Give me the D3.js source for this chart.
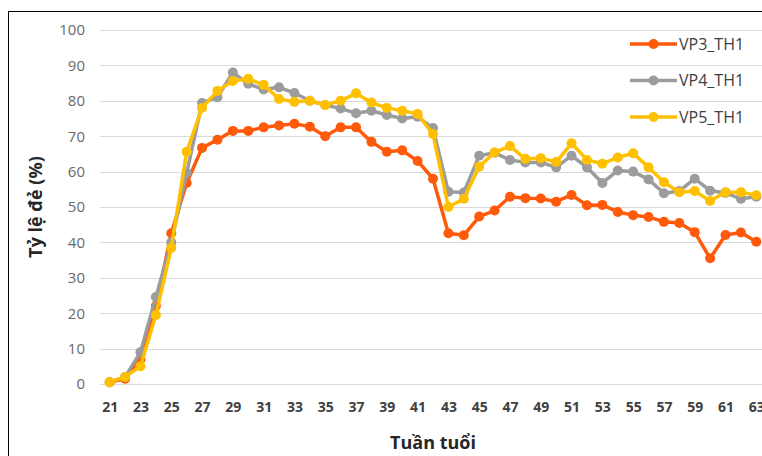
<!DOCTYPE html>
<html>
<head>
<meta charset="utf-8">
<script src="https://cdn.jsdelivr.net/npm/d3@7"></script>
<style>
  html, body { margin: 0; padding: 0; background: #fff; }
  svg { display: block; }
</style>
</head>
<body>
<svg id="chart" width="762" height="456"></svg>
<script>
// Laying weeks (Tuần tuổi)
const weeks = d3.range(21, 64);

// Laying rate (%) per line
const vp3 = [0.5, 1.5, 7, 22, 42.6, 56.8, 66.7, 69, 71.5, 71.5, 72.5, 73, 73.5, 72.7, 70, 72.5, 72.5, 68.4, 65.6, 66, 63, 58,
             42.6, 42, 47.3, 49, 52.9, 52.5, 52.4, 51.5, 53.4, 50.5, 50.6, 48.6, 47.7, 47.2, 45.8, 45.5, 42.9, 35.5, 42.1, 42.8, 40.2];
const vp4 = [0.5, 2, 9, 24.6, 40, 59.6, 79.4, 81, 88, 84.8, 83.2, 83.8, 82.2, 80, 78.8, 77.8, 76.5, 77.2, 76, 75, 75.5, 72.3,
             54.3, 54.1, 64.5, 65.3, 63.3, 62.6, 62.6, 61.2, 64.5, 61.2, 56.8, 60.3, 60, 57.8, 53.9, 54.5, 58, 54.6, 54, 52.3, 52.9];
const vp5 = [0.5, 2, 5, 19.5, 38.4, 65.6, 78, 82.8, 85.6, 86.2, 84.5, 80.5, 79.7, 80, 78.8, 80, 82.1, 79.5, 78, 77.2, 76.3, 70.6,
             50, 52.3, 61.4, 65.4, 67.2, 63.6, 63.8, 62.7, 68, 63.3, 62.2, 64, 65.2, 61.2, 57, 54.2, 54.5, 51.7, 54.2, 54.2, 53.3];

const seriesNames = ["VP3_TH1", "VP4_TH1", "VP5_TH1"];
const seriesColors = ["#ff5a0a", "#9c9c9c", "#ffc000"];
const yTicks = [0, 10, 20, 30, 40, 50, 60, 70, 80, 90, 100];
const xTickLabels = weeks.filter(w => w % 2 === 1);

const series = [vp3, vp4, vp5].map((vals, i) => ({
  name: seriesNames[i],
  color: seriesColors[i],
  points: vals.map((v, j) => ({ week: weeks[j], value: v }))
}));

const font = "'Open Sans', Lato, sans-serif";
const svg = d3.select("#chart");

// chart frame (continues past the visible area)
svg.append("rect")
  .attr("x", 8.5).attr("y", 11.5)
  .attr("width", 900).attr("height", 600)
  .attr("fill", "#fff").attr("stroke", "#000").attr("stroke-width", 1);

const x = d3.scalePoint().domain(weeks).range([102, 764]).padding(0.5);
const y = d3.scaleLinear().domain([0, 100]).range([384, 30]);

// horizontal gridlines
svg.append("g")
  .selectAll("line")
  .data(yTicks)
  .join("line")
  .attr("x1", 100).attr("x2", 770)
  .attr("y1", d => Math.round(y(d)) + 0.5)
  .attr("y2", d => Math.round(y(d)) + 0.5)
  .attr("stroke", "#d9d9d9").attr("stroke-width", 1.2);

// y axis labels
const yAxis = svg.append("g")
  .attr("transform", "translate(92,0)")
  .call(d3.axisLeft(y).tickValues(yTicks).tickSize(0).tickPadding(7));
yAxis.select(".domain").remove();
yAxis.selectAll("text")
  .attr("font-family", font)
  .attr("font-size", 15)
  .attr("fill", "#6a6a6a");

// x axis labels
const xAxis = svg.append("g")
  .attr("transform", "translate(0,397)")
  .call(d3.axisBottom(x).tickValues(xTickLabels).tickSize(0).tickPadding(5));
xAxis.select(".domain").remove();
xAxis.selectAll("text")
  .attr("font-family", font)
  .attr("font-size", 14)
  .attr("font-weight", "bold")
  .attr("fill", "#404040");

// axis titles
svg.append("text")
  .attr("x", 433).attr("y", 449)
  .attr("text-anchor", "middle")
  .attr("font-family", font)
  .attr("font-size", 18).attr("font-weight", "bold")
  .attr("fill", "#262626")
  .text("Tuần tuổi");

svg.append("text")
  .attr("transform", "translate(42,207) rotate(-90)")
  .attr("text-anchor", "middle")
  .attr("font-family", font)
  .attr("font-size", 18).attr("font-weight", "bold")
  .attr("fill", "#262626")
  .text("Tỷ lệ đẻ (%)");

// lines with markers
const line = d3.line().x(d => x(d.week)).y(d => y(d.value));

const sg = svg.append("g")
  .selectAll("g")
  .data(series)
  .join("g");

sg.append("path")
  .attr("d", d => line(d.points))
  .attr("fill", "none")
  .attr("stroke", d => d.color)
  .attr("stroke-width", 3.5)
  .attr("stroke-linejoin", "round");

sg.selectAll("circle")
  .data(d => d.points.map(p => ({ ...p, color: d.color })))
  .join("circle")
  .attr("cx", d => x(d.week))
  .attr("cy", d => y(d.value))
  .attr("r", 5)
  .attr("fill", d => d.color);

// legend
const legendY = d3.scalePoint().domain(seriesNames).range([44, 117]);
const lg = svg.append("g")
  .selectAll("g")
  .data(series)
  .join("g")
  .attr("transform", d => `translate(0,${legendY(d.name)})`);

lg.append("line")
  .attr("x1", 630).attr("x2", 677)
  .attr("stroke", d => d.color).attr("stroke-width", 3.5);
lg.append("circle")
  .attr("cx", 653.5).attr("r", 5)
  .attr("fill", d => d.color);
lg.append("text")
  .attr("x", 679).attr("y", 5.5)
  .attr("font-family", font)
  .attr("font-size", 16)
  .attr("fill", "#404040")
  .text(d => d.name);
</script>
</body>
</html>
